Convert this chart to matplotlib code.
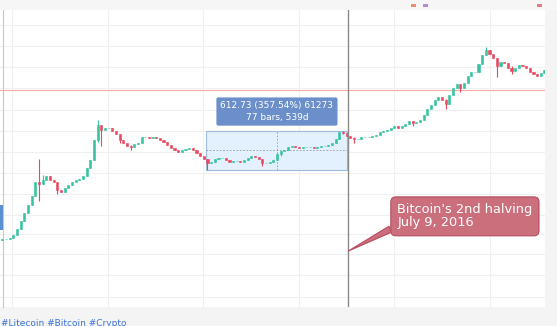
import numpy as np
import pandas as pd
import matplotlib
matplotlib.use("Agg")
import matplotlib.pyplot as plt
import matplotlib.dates as mdates
from matplotlib.patches import Rectangle
from matplotlib.ticker import NullLocator

closes = [11.5, 11.5, 12.0, 13.5, 17.1, 23.3, 31.9, 43.6, 62, 107,
          100, 116, 135, 116, 107, 78, 72, 85, 95, 107,
          116, 120, 135, 185, 253, 552, 991, 815, 881, 881,
          784, 697, 552, 491, 436, 420, 472, 491, 620, 620,
          596, 620, 596, 552, 510, 454, 404, 373, 345, 373,
          388, 404, 373, 332, 295, 263, 225, 234, 263, 273,
          273, 253, 234, 243, 243, 234, 253, 273, 295, 284,
          263, 225, 225, 234, 253, 319, 359, 373, 420, 436,
          420, 404, 420, 420, 420, 404, 420, 436, 436, 454,
          491, 574, 754, 725, 645, 596, 574, 574, 620, 620,
          620, 645, 671, 754, 784, 815, 881, 953, 881, 953,
          1030, 1159, 1071, 1114, 1205, 1465, 1851, 2165, 2632, 2959,
          2632, 2251, 3200, 4205, 4917, 4205, 5112, 6720, 7856, 7856,
          10740, 15260, 18560, 15870, 13580, 9930, 11610, 11170, 9185, 8170,
          9185, 10330, 9930, 9185, 7856, 7266, 6720, 7555, 8495]
first_date = "2012-11-25"

# notable wicks: candle index -> (high, low)
wicks = {10: (263, 51), 11: (140, 98), 15: (85, 66), 26: (1205, 520),
         27: (990, 436), 32: (700, 491), 35: (460, 380), 56: (263, 171),
         71: (263, 200), 76: (360, 300), 93: (790, 700), 96: (620, 491),
         112: (1160, 960), 121: (2700, 1850), 125: (4950, 3600),
         132: (20860, 15000), 135: (13580, 6460), 139: (9800, 7300)}

grid_prices = [50000, 22000, 9600, 4200, 1800, 780, 340, 150, 66, 30, 14, 6.5, 2.8, 1.2]
grid_years = [2013, 2014, 2015, 2016, 2017, 2018]

range_start, range_end = "2015-01-14", "2016-07-06"
range_low, range_high = 171.37, 784.10
range_text = "612.73 (357.54%) 61273\n77 bars, 539d"
halving_date = "2016-07-09"
halving_tip = 7.2
halving_text = "Bitcoin's 2nd halving\nJuly 9, 2016"
red_level = 3890
tags = "#Litecoin #Bitcoin #Crypto"

up_col, down_col = "#35c49f", "#e8485f"

dates = pd.date_range(first_date, periods=len(closes), freq="14D")
c = np.array(closes, dtype=float)
o = np.concatenate([[c[0] * 0.97], c[:-1]])
hi = np.maximum(o, c)
lo = np.minimum(o, c)
for i, (h, l) in wicks.items():
    hi[i], lo[i] = h, l
cols = [up_col if cc >= oo else down_col for oo, cc in zip(o, c)]

fig = plt.figure(figsize=(5.57, 3.26), dpi=100, facecolor="#f4f4f4")
W, H = 557, 326
ax = fig.add_axes([0 / W, (H - 307) / H, 545 / W, (307 - 10) / H])
ax.set_facecolor("white")
ax.set_yscale("log")
ax.set_ylim(0.81, 88500)
ax.set_xlim(pd.Timestamp("2012-11-16"), pd.Timestamp("2018-07-31"))

for p in grid_prices:
    ax.axhline(p, color="#f0f0f0", lw=0.8, zorder=0)
for yr in grid_years:
    ax.axvline(pd.Timestamp(f"{yr}-01-01"), color="#f0f0f0", lw=0.8, zorder=0)

ax.axhline(red_level, color="#f5a9ab", lw=0.8, zorder=1)

# date/price range box
x0, x1 = mdates.date2num(pd.Timestamp(range_start)), mdates.date2num(pd.Timestamp(range_end))
ax.add_patch(Rectangle((x0, range_low), x1 - x0, range_high - range_low,
                       fc="#e3f0fd", ec="#9dbbe3", lw=0.8, zorder=1))
xm = (x0 + x1) / 2
ym = np.sqrt(range_low * range_high)
ax.plot([x0, x1], [ym, ym], color="#9a9a9a", lw=0.6, ls=(0, (2, 2)), zorder=1)
ax.plot([xm, xm], [range_low, range_high], color="#9a9a9a", lw=0.6, ls=(0, (2, 2)), zorder=1)

# candles
ax.vlines(dates, lo, hi, colors=cols, lw=0.8, zorder=3)
ax.bar(dates, np.abs(c - o), bottom=np.minimum(o, c), width=8, color=cols,
       edgecolor=cols, lw=0.4, zorder=4)

ax.axvline(pd.Timestamp(halving_date), color="#8a8a8a", lw=1.0, zorder=5)

ax.annotate(range_text, xy=(xm, range_high), xytext=(0, 14), textcoords="offset points",
            ha="center", va="center", fontsize=6.5, color="white", linespacing=1.3,
            bbox=dict(boxstyle="round,pad=0.45,rounding_size=0.2", fc="#6b8fca", ec="none"),
            zorder=6)

ax.annotate(halving_text, xy=(pd.Timestamp(halving_date), halving_tip),
            xytext=(84, 25), textcoords="offset points", ha="center", va="center",
            multialignment="left", fontsize=9.3, color="white", linespacing=1.0,
            bbox=dict(boxstyle="round,pad=0.5,rounding_size=0.4", fc="#cc6f7d", ec="#b84b5e", lw=0.8),
            arrowprops=dict(arrowstyle="wedge,tail_width=0.5", fc="#cc6f7d", ec="#b84b5e",
                            lw=0.8, relpos=(0.02, 0.2), shrinkA=0, shrinkB=0),
            zorder=7)

ax.yaxis.set_minor_locator(NullLocator())
ax.set_xticks([])
ax.set_yticks([])
ax.tick_params(which="both", length=0)
for s in ["top", "right", "bottom"]:
    ax.spines[s].set_visible(False)
ax.spines["left"].set_color("#c8c8c8")
ax.spines["left"].set_position(("outward", -2))

# screenshot chrome
fig.patches.append(Rectangle((0, (H - 10) / H), 1, 10 / H, transform=fig.transFigure,
                             fc="#f6f6f6", ec="none"))
fig.patches.append(Rectangle((0, (H - 230) / H), 3 / W, 25 / H, transform=fig.transFigure,
                             fc="#5d8fd3", ec="none", zorder=10))
for px, colr in [(411, "#e8603c"), (423, "#9b59d0"), (537, "#e0474c")]:
    fig.patches.append(Rectangle((px / W, (H - 7) / H), 5 / W, 3 / H, transform=fig.transFigure,
                                 fc=colr, ec="none", alpha=0.7))
fig.text(1 / W, (H - 323) / H, tags, fontsize=6.5, color="#3b73d8", ha="left", va="center")

fig.savefig("out.png", dpi=100, facecolor=fig.get_facecolor())
